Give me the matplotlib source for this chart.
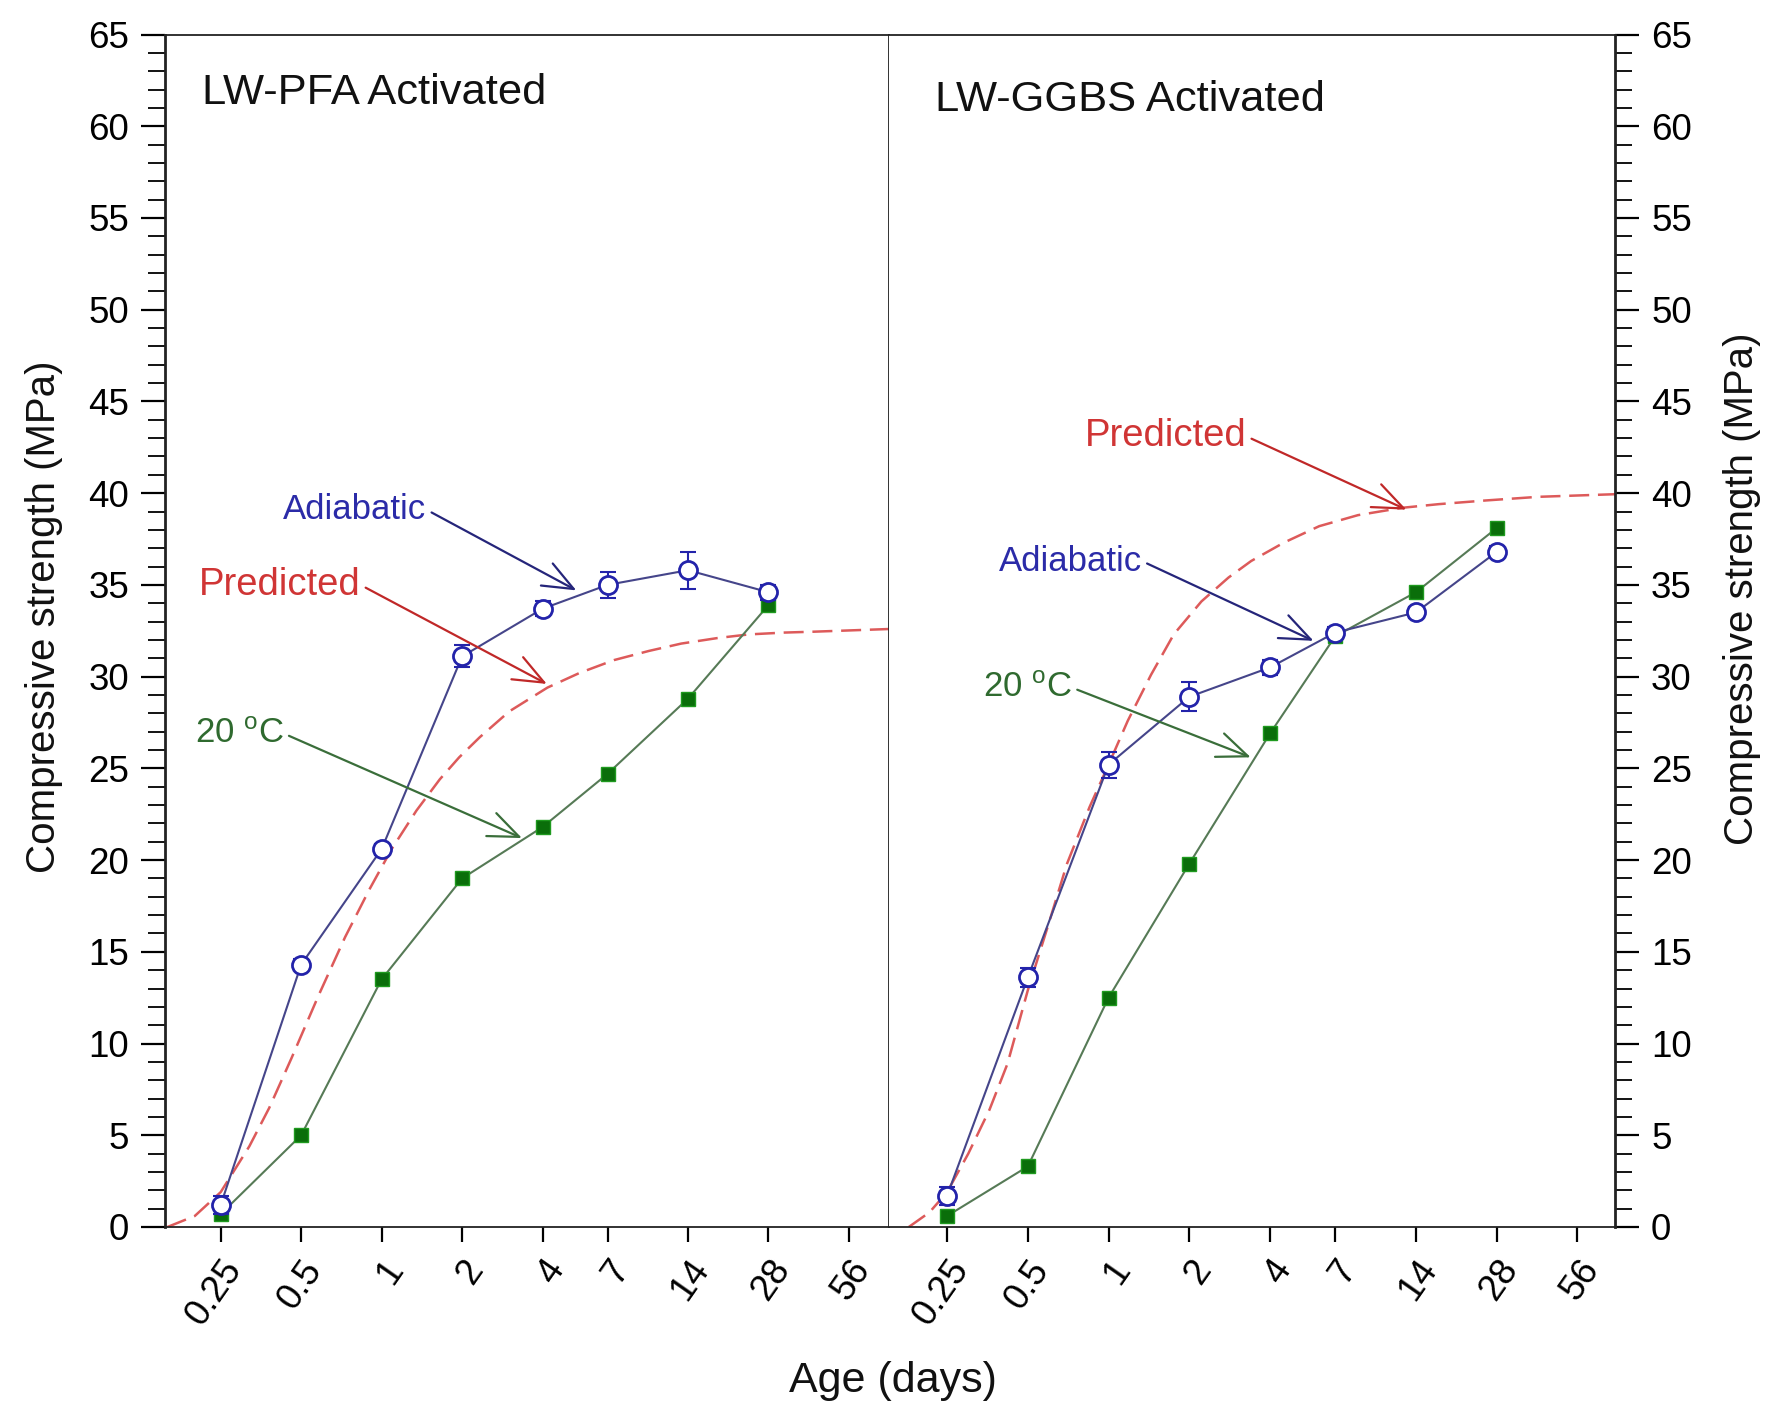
import matplotlib
matplotlib.use("Agg")
import matplotlib.pyplot as plt
import numpy as np

plt.rcParams['font.family'] = ['Liberation Sans', 'DejaVu Sans']
plt.rcParams['mathtext.fontset'] = 'custom'
plt.rcParams['mathtext.rm'] = 'Liberation Sans'
plt.rcParams['mathtext.it'] = 'Liberation Sans'

# ---------------- data ----------------
ages = [0.25, 0.5, 1, 2, 4, 7, 14, 28]
tick_vals = [0.25, 0.5, 1, 2, 4, 7, 14, 28, 56]
tick_labels = ['0.25', '0.5', '1', '2', '4', '7', '14', '28', '56']

pfa_adiabatic = [1.2, 14.3, 20.6, 31.1, 33.7, 35.0, 35.8, 34.6]
pfa_adiabatic_err = [0.5, 0.3, 0.3, 0.6, 0.4, 0.7, 1.0, 0.4]
pfa_20c = [0.7, 5.0, 13.5, 19.0, 21.8, 24.7, 28.8, 33.9]
pfa_pred_x = [0.158, 0.2, 0.25, 0.32, 0.38, 0.46, 0.58, 0.73, 0.9, 1.09, 1.35, 1.65,
              1.95, 2.33, 3.0, 4.17, 5.5, 7.4, 10.0, 13.2, 18.0, 23.6, 32.0, 41.6, 81]
pfa_pred_y = [0.0, 0.6, 1.9, 4.4, 6.5, 9.2, 12.6, 15.8, 18.4, 20.6, 22.7, 24.4,
              25.6, 26.7, 28.1, 29.4, 30.2, 30.9, 31.4, 31.8, 32.1, 32.3, 32.4, 32.45, 32.6]

ggbs_adiabatic = [1.7, 13.6, 25.2, 28.9, 30.5, 32.4, 33.5, 36.8]
ggbs_adiabatic_err = [0.5, 0.5, 0.7, 0.8, 0.4, 0.3, 0.3, 0.3]
ggbs_20c = [0.6, 3.3, 12.5, 19.8, 26.9, 32.2, 34.6, 38.1]
ggbs_pred_x = [0.18, 0.215, 0.25, 0.3, 0.36, 0.42, 0.5, 0.6, 0.70, 0.85, 1.0, 1.18,
               1.44, 1.75, 2.22, 2.8, 3.4, 4.5, 6.1, 8.5, 12.4, 17.0, 25.4, 40.0, 80]
ggbs_pred_y = [0.0, 0.8, 1.9, 4.0, 6.4, 8.9, 12.9, 16.6, 19.8, 22.9, 25.2, 27.6,
               30.1, 32.3, 34.1, 35.4, 36.3, 37.3, 38.2, 38.8, 39.2, 39.4, 39.6, 39.8, 39.95]

titles = ['LW-PFA Activated', 'LW-GGBS Activated']

# ---------------- style ----------------
C_BLUE_MK = '#2323aa'
C_BLUE_LN = '#45458a'
C_GREEN_FC = '#0a6e0a'
C_GREEN_EC = '#1f9a1f'
C_GREEN_LN = '#567a56'
C_RED = '#dd5a5a'
C_TXT_BLUE = '#2b2ba8'
C_ARR_BLUE = '#25257a'
C_TXT_RED = '#d03535'
C_ARR_RED = '#c02828'
C_TXT_GREEN = '#2f6a2f'
C_ARR_GREEN = '#3a6e3a'

W, H = 1776, 1413
fig = plt.figure(figsize=(W / 100, H / 100), dpi=100)

x0, xm, x1 = 165, 889, 1615
ytop, ybot = 34.5, 1227
axL = fig.add_axes([x0 / W, 1 - ybot / H, (xm - x0) / W, (ybot - ytop) / H])
axR = fig.add_axes([xm / W, 1 - ybot / H, (x1 - xm) / W, (ybot - ytop) / H])

TICK_FS = 26.5
for ax, side in ((axL, 'left'), (axR, 'right')):
    ax.set_xscale('log', base=2)
    ax.set_ylim(0, 65)
    ax.set_yticks(np.arange(0, 66, 5))
    ax.set_yticks(np.arange(0, 66, 1), minor=True)
    ax.set_xticks(tick_vals)
    ax.set_xticklabels(tick_labels)
    ax.xaxis.set_minor_locator(matplotlib.ticker.NullLocator())
    ax.tick_params(axis='x', which='major', direction='out', length=11, width=1.6,
                   pad=8, labelsize=TICK_FS, top=False)
    for lab in ax.get_xticklabels():
        lab.set_rotation(55)
        lab.set_rotation_mode('anchor')
        lab.set_ha('right')
        lab.set_va('top')
    for sp in ax.spines.values():
        sp.set_linewidth(1.3)
        sp.set_color('#222222')
    if side == 'left':
        ax.tick_params(axis='y', which='major', direction='out', length=17, width=1.6,
                       pad=9, labelsize=TICK_FS, left=True, right=False)
        ax.tick_params(axis='y', which='minor', direction='out', length=12, width=1.3,
                       left=True, right=False)
    else:
        ax.yaxis.tick_right()
        ax.tick_params(axis='y', which='major', direction='out', length=17, width=1.6,
                       pad=9, labelsize=TICK_FS, left=False, right=True,
                       labelleft=False, labelright=True)
        ax.tick_params(axis='y', which='minor', direction='out', length=12, width=1.3,
                       left=False, right=True)
        ax.spines['left'].set_visible(False)

axL.set_xlim(2 ** -2.692, 2 ** 6.305)
axR.set_xlim(2 ** -2.719, 2 ** 6.272)
axL.spines['left'].set_linewidth(2.0)
axR.spines['right'].set_linewidth(2.0)


def draw_panel(ax, adi, adi_err, c20, px, py, title, tx, ty):
    ax.plot(px, py, color=C_RED, lw=1.8, dashes=(8, 3.5), zorder=2)
    ax.plot(ages, c20, color=C_GREEN_LN, lw=1.5, zorder=3)
    ax.plot(ages, c20, ls='none', marker='s', ms=10, mfc=C_GREEN_FC, mec=C_GREEN_EC,
            mew=1.0, zorder=4)
    ax.plot(ages, adi, color=C_BLUE_LN, lw=1.5, zorder=3)
    ax.errorbar(ages, adi, yerr=adi_err, ls='none', ecolor=C_BLUE_MK, elinewidth=1.5,
                capsize=6, capthick=1.5, zorder=5)
    ax.plot(ages, adi, ls='none', marker='o', ms=13, mfc='white', mec=C_BLUE_MK,
            mew=2.0, zorder=6)
    ax.text(tx, ty, title, transform=ax.transAxes, fontsize=31.3, ha='left', va='center',
            color='#111111')


draw_panel(axL, pfa_adiabatic, pfa_adiabatic_err, pfa_20c, pfa_pred_x, pfa_pred_y,
           titles[0], 0.0506, 0.951)
draw_panel(axR, ggbs_adiabatic, ggbs_adiabatic_err, ggbs_20c, ggbs_pred_x, ggbs_pred_y,
           titles[1], 0.0627, 0.945)


def note(ax, text, xy, xytext, tcol, acol, fs):
    ax.annotate(text, xy=xy, xytext=xytext, textcoords='data', fontsize=fs,
                color=tcol, ha='right', va='center', zorder=7,
                arrowprops=dict(arrowstyle='->,head_length=1.1,head_width=0.45',
                                color=acol, lw=1.6, relpos=(1.0, 0.5),
                                shrinkA=2, shrinkB=0, mutation_scale=20))


deg = r'20 $^{\mathrm{o}}$C'
note(axL, 'Adiabatic', (5.35, 34.7), (1.47, 39.1), C_TXT_BLUE, C_ARR_BLUE, 25)
note(axL, 'Predicted', (4.15, 29.6), (0.833, 35.0), C_TXT_RED, C_ARR_RED, 27.5)
note(axL, deg, (3.35, 21.2), (0.43, 26.9), C_TXT_GREEN, C_ARR_GREEN, 25)
note(axR, 'Predicted', (12.9, 39.1), (3.26, 43.1), C_TXT_RED, C_ARR_RED, 27.5)
note(axR, 'Adiabatic', (5.81, 31.95), (1.33, 36.3), C_TXT_BLUE, C_ARR_BLUE, 25)
note(axR, deg, (3.39, 25.6), (0.73, 29.4), C_TXT_GREEN, C_ARR_GREEN, 25)

fig.text(44 / W, 0.5633, 'Compressive strength (MPa)', rotation=90, ha='center',
         va='center', fontsize=29, color='#111111')
fig.text(1742 / W, 0.583, 'Compressive strength (MPa)', rotation=90, ha='center',
         va='center', fontsize=29, color='#111111')
fig.text(0.5026, 0.0225, 'Age (days)', ha='center', va='center', fontsize=31,
         color='#111111')

fig.savefig('out.png', dpi=100)
